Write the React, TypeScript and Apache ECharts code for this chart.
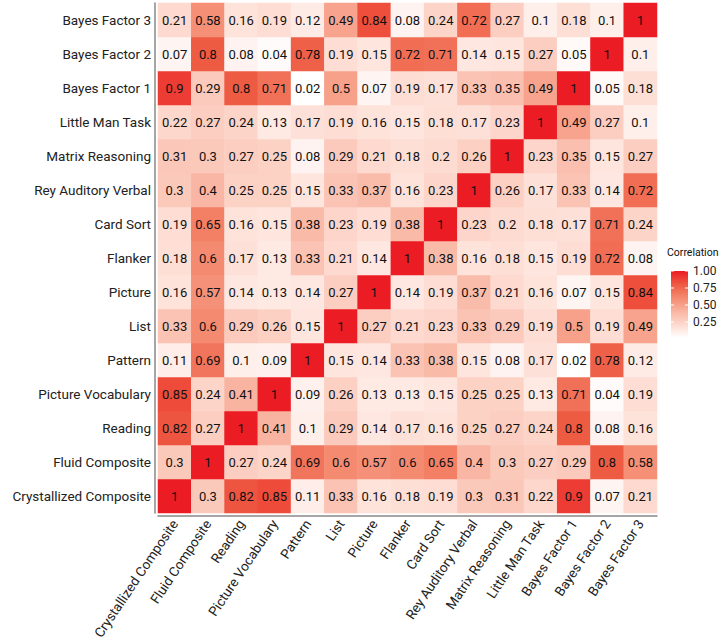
import React, { useEffect, useRef } from "react";
import * as echarts from "echarts";

const variables = [
  "Crystallized Composite",
  "Fluid Composite",
  "Reading",
  "Picture Vocabulary",
  "Pattern",
  "List",
  "Picture",
  "Flanker",
  "Card Sort",
  "Rey Auditory Verbal",
  "Matrix Reasoning",
  "Little Man Task",
  "Bayes Factor 1",
  "Bayes Factor 2",
  "Bayes Factor 3",
];

// rows follow `variables` order (bottom row first), columns follow `variables` order
const crystallized = [1, 0.3, 0.82, 0.85, 0.11, 0.33, 0.16, 0.18, 0.19, 0.3, 0.31, 0.22, 0.9, 0.07, 0.21];
const fluid = [0.3, 1, 0.27, 0.24, 0.69, 0.6, 0.57, 0.6, 0.65, 0.4, 0.3, 0.27, 0.29, 0.8, 0.58];
const reading = [0.82, 0.27, 1, 0.41, 0.1, 0.29, 0.14, 0.17, 0.16, 0.25, 0.27, 0.24, 0.8, 0.08, 0.16];
const pictureVocab = [0.85, 0.24, 0.41, 1, 0.09, 0.26, 0.13, 0.13, 0.15, 0.25, 0.25, 0.13, 0.71, 0.04, 0.19];
const pattern = [0.11, 0.69, 0.1, 0.09, 1, 0.15, 0.14, 0.33, 0.38, 0.15, 0.08, 0.17, 0.02, 0.78, 0.12];
const list = [0.33, 0.6, 0.29, 0.26, 0.15, 1, 0.27, 0.21, 0.23, 0.33, 0.29, 0.19, 0.5, 0.19, 0.49];
const picture = [0.16, 0.57, 0.14, 0.13, 0.14, 0.27, 1, 0.14, 0.19, 0.37, 0.21, 0.16, 0.07, 0.15, 0.84];
const flanker = [0.18, 0.6, 0.17, 0.13, 0.33, 0.21, 0.14, 1, 0.38, 0.16, 0.18, 0.15, 0.19, 0.72, 0.08];
const cardSort = [0.19, 0.65, 0.16, 0.15, 0.38, 0.23, 0.19, 0.38, 1, 0.23, 0.2, 0.18, 0.17, 0.71, 0.24];
const reyAuditory = [0.3, 0.4, 0.25, 0.25, 0.15, 0.33, 0.37, 0.16, 0.23, 1, 0.26, 0.17, 0.33, 0.14, 0.72];
const matrixReasoning = [0.31, 0.3, 0.27, 0.25, 0.08, 0.29, 0.21, 0.18, 0.2, 0.26, 1, 0.23, 0.35, 0.15, 0.27];
const littleMan = [0.22, 0.27, 0.24, 0.13, 0.17, 0.19, 0.16, 0.15, 0.18, 0.17, 0.23, 1, 0.49, 0.27, 0.1];
const bayes1 = [0.9, 0.29, 0.8, 0.71, 0.02, 0.5, 0.07, 0.19, 0.17, 0.33, 0.35, 0.49, 1, 0.05, 0.18];
const bayes2 = [0.07, 0.8, 0.08, 0.04, 0.78, 0.19, 0.15, 0.72, 0.71, 0.14, 0.15, 0.27, 0.05, 1, 0.1];
const bayes3 = [0.21, 0.58, 0.16, 0.19, 0.12, 0.49, 0.84, 0.08, 0.24, 0.72, 0.27, 0.1, 0.18, 0.1, 1];

const rows = [
  crystallized, fluid, reading, pictureVocab, pattern, list, picture, flanker,
  cardSort, reyAuditory, matrixReasoning, littleMan, bayes1, bayes2, bayes3,
];

const legendTicks = [1.0, 0.75, 0.5, 0.25];
const colorMin = 0.02;
const colorMax = 1;
const palette = ["#FFFFFF", "#FDD8CD", "#F9B4A1", "#F4896F", "#EE5A42", "#EC1C24"];

const FONT = "Roboto, 'Liberation Sans', sans-serif";

export default function App() {
  const ref = useRef<HTMLDivElement>(null);
  useEffect(() => {
    document.body.style.margin = "0";
    if (!ref.current) return;
    const chart = echarts.init(ref.current, undefined, { renderer: "svg" });

    const data: [number, number, number][] = [];
    rows.forEach((row, yi) => row.forEach((v, xi) => data.push([xi, yi, v])));

    // legend geometry
    const barX = 671;
    const barW = 17;
    const yTop = 271; // value 1.00
    const pxPerUnit = 68;
    const valToY = (v: number) => yTop + (1 - v) * pxPerUnit;
    const barTop = valToY(colorMax);
    const barBottom = valToY(colorMin);

    const gradStops = palette
      .map((c, i) => ({ offset: 1 - i / (palette.length - 1), color: c }))
      .reverse();

    const graphics: any[] = [
      {
        type: "text",
        x: 667,
        y: 252,
        style: {
          text: "Correlation",
          font: `10.5px ${FONT}`,
          fill: "#111",
          verticalAlign: "middle",
        },
      },
      {
        type: "rect",
        shape: { x: barX, y: barTop, width: barW, height: barBottom - barTop },
        style: { fill: new echarts.graphic.LinearGradient(0, 0, 0, 1, gradStops) },
      },
    ];
    legendTicks.forEach((t) => {
      const y = valToY(t);
      graphics.push({
        type: "line",
        shape: { x1: barX, y1: y, x2: barX + 3, y2: y },
        style: { stroke: "#ffffff", lineWidth: 1 },
      });
      graphics.push({
        type: "line",
        shape: { x1: barX + barW - 3, y1: y, x2: barX + barW, y2: y },
        style: { stroke: "#ffffff", lineWidth: 1 },
      });
      graphics.push({
        type: "text",
        x: barX + barW + 5,
        y: y,
        style: {
          text: t.toFixed(2),
          font: `12px ${FONT}`,
          fill: "#222",
          verticalAlign: "middle",
        },
      });
    });

    chart.setOption({
      animation: false,
      backgroundColor: "#ffffff",
      grid: { left: 158, right: 66, top: 3, bottom: 126, outerBoundsMode: "none", containLabel: false },
      xAxis: {
        type: "category",
        data: variables,
        offset: 3,
        axisLine: { lineStyle: { color: "#888", width: 1.5 } },
        axisTick: { alignWithLabel: true, length: 3, lineStyle: { color: "#555" } },
        axisLabel: {
          rotate: 56,
          interval: 0,
          margin: 5,
          fontFamily: FONT,
          fontSize: 13.5,
          color: "#222",
        },
        splitLine: { show: false },
      },
      yAxis: {
        type: "category",
        data: variables,
        offset: 3,
        axisLine: { lineStyle: { color: "#888", width: 1.5 } },
        axisTick: { alignWithLabel: true, length: 3, lineStyle: { color: "#555" } },
        axisLabel: { interval: 0, margin: 4, fontFamily: FONT, fontSize: 13.5, color: "#222" },
        splitLine: { show: false },
      },
      visualMap: {
        show: false,
        min: colorMin,
        max: colorMax,
        dimension: 2,
        inRange: { color: palette },
      },
      series: [
        {
          type: "heatmap",
          data,
          label: {
            show: true,
            fontFamily: FONT,
            fontSize: 13,
            color: "#111",
            formatter: (p: any) => String(p.value[2]),
          },
          itemStyle: { borderWidth: 0 },
          emphasis: { disabled: true },
        },
      ],
      graphic: graphics,
    });
    return () => chart.dispose();
  }, []);
  return <div ref={ref} style={{ width: 723, height: 639 }} />;
}
